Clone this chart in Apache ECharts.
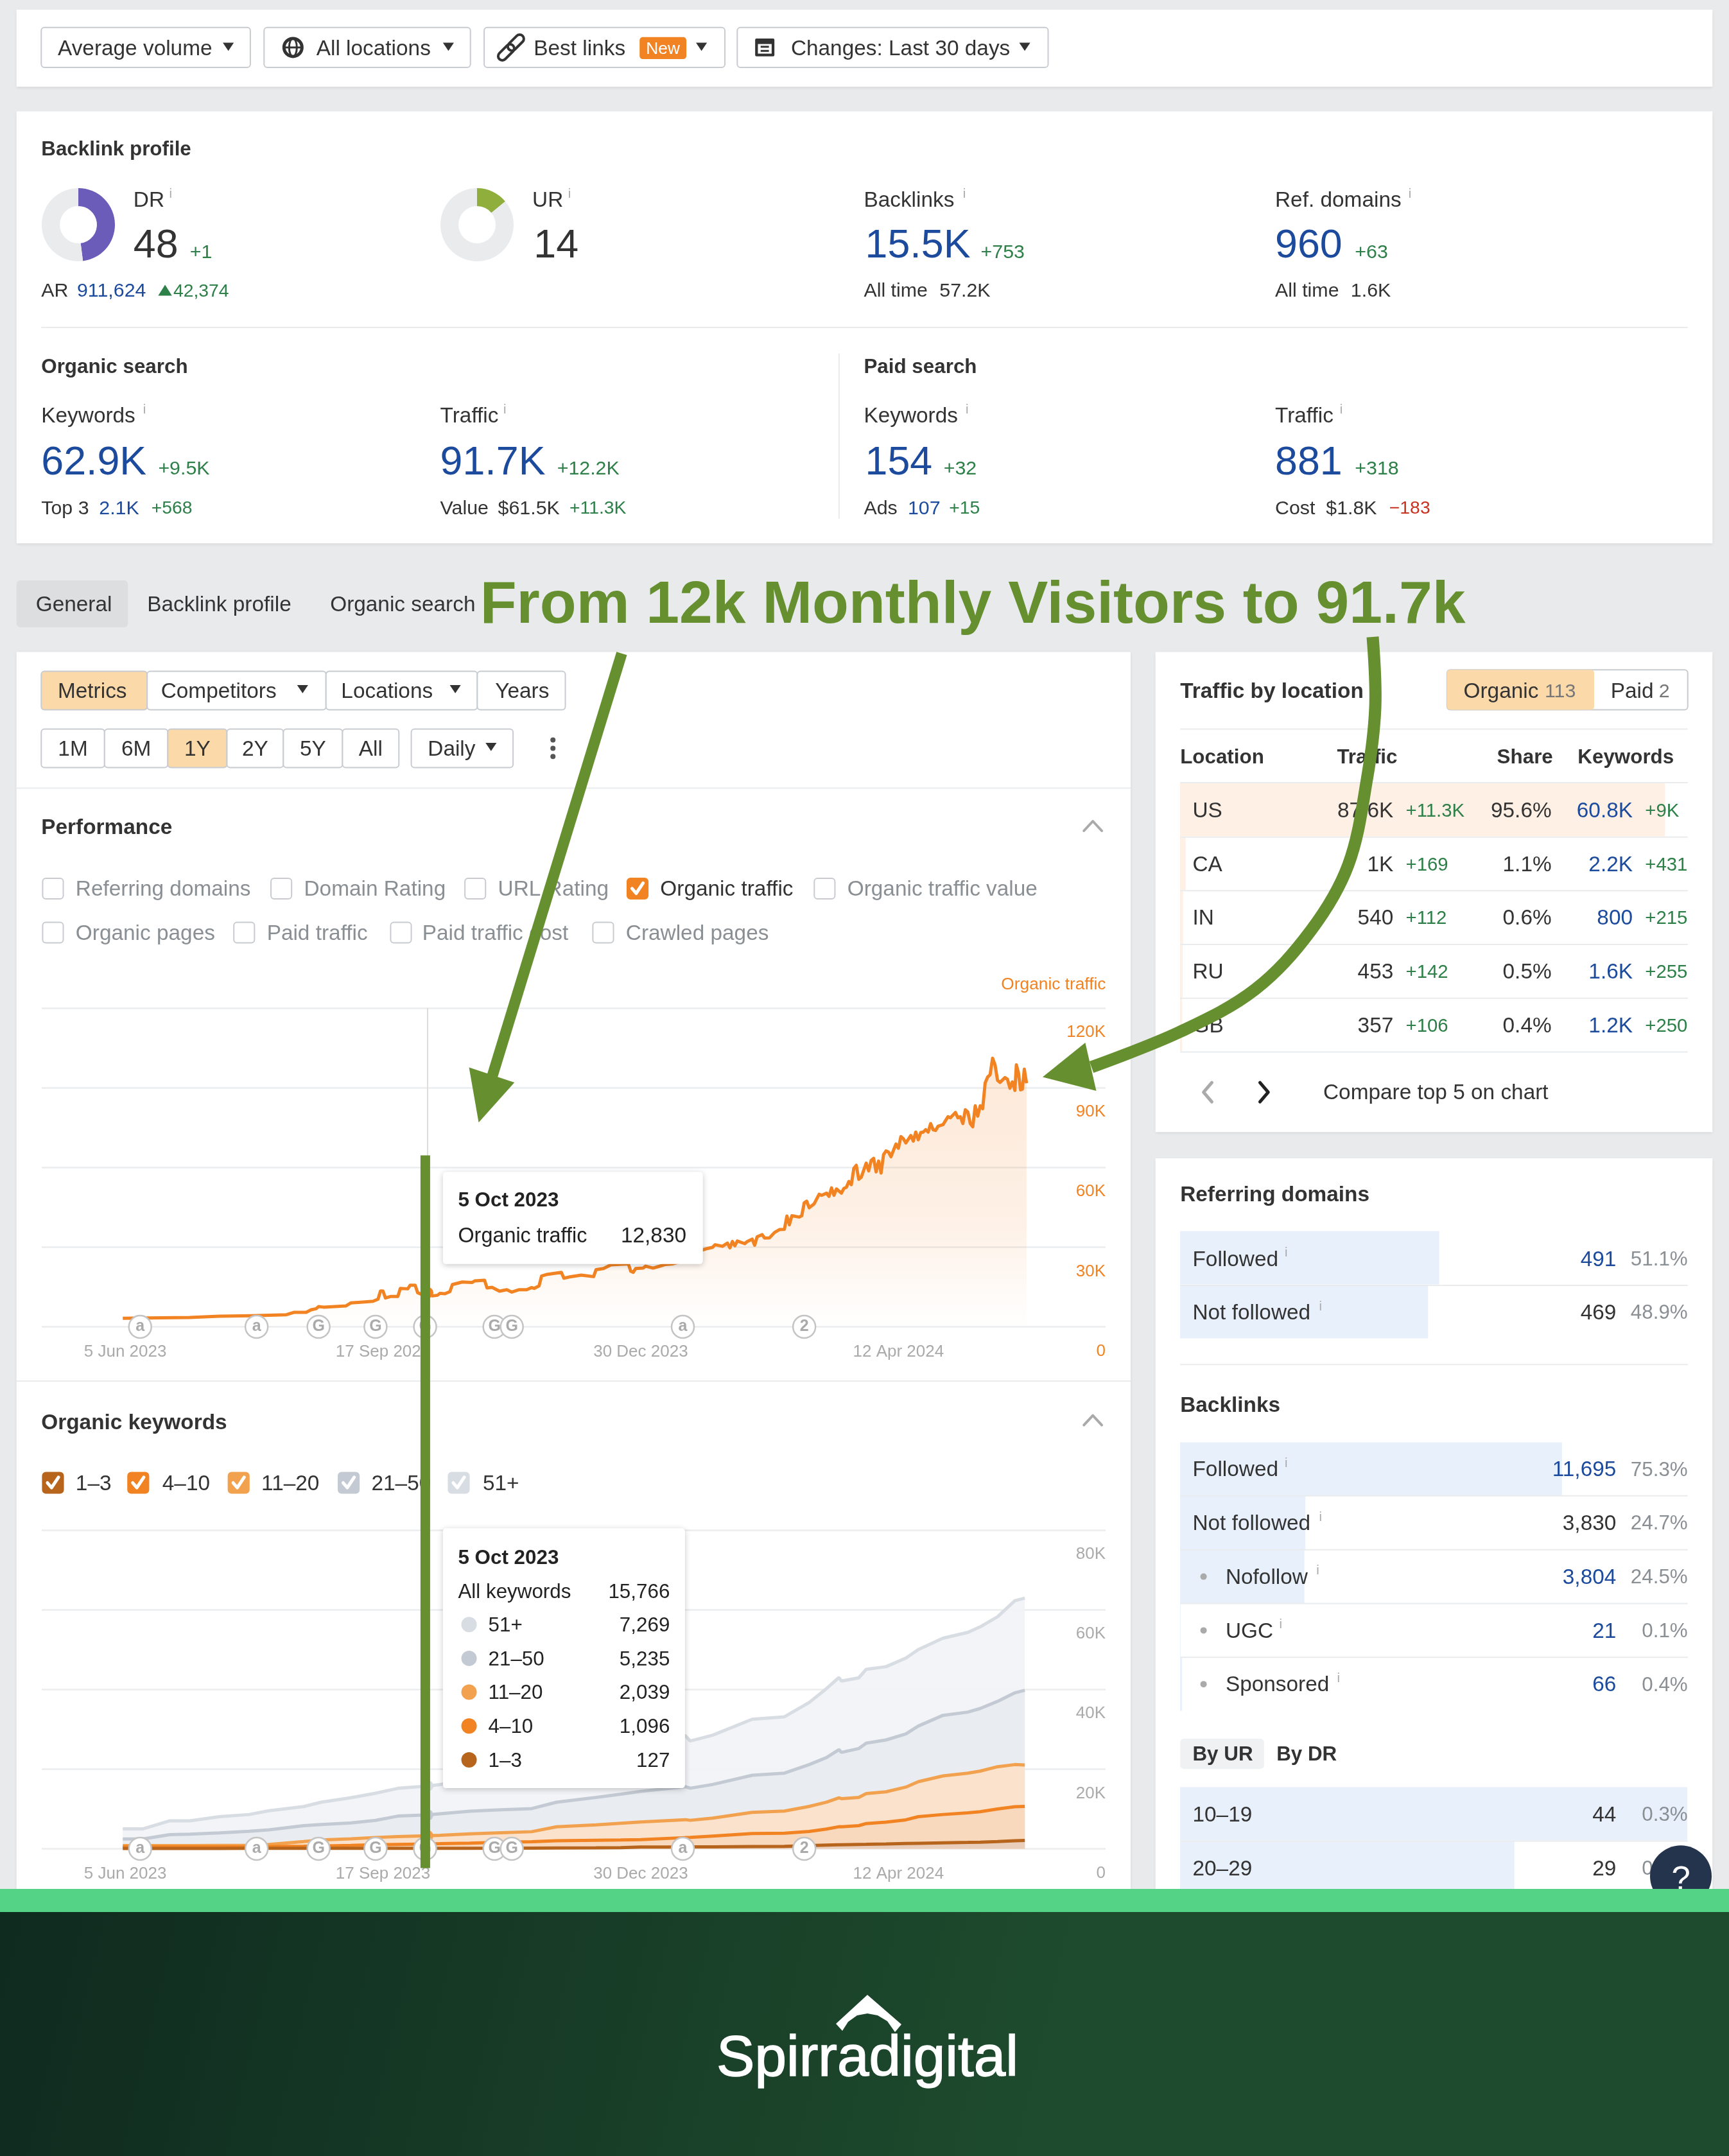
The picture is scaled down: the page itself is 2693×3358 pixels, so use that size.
<!DOCTYPE html>
<html>
<head>
<meta charset="utf-8">
<title>Backlink profile</title>
<style>
  html, body { margin: 0; padding: 0; background: #e8eaec; }
  #main { width: 2693px; height: 3358px; }
</style>
<script src="https://cdn.jsdelivr.net/npm/echarts@6/dist/echarts.min.js"></script>
</head>
<body>
<div id="main"></div>
<script>
// organic traffic, x is days counted from 5 Jun 2023
const trafficDays = [-1,9,26,38,51,65,68,73,75,77,78,80,89,91,95,100,102,103,104,105,107,110,111,114,115,117,118,120,122,124,126,127,129,131,132,136,140,141,145,146,148,151,154,156,159,162,164,165,167,168,170,176,177,179,184,189,190,193,196,203,204,205,206,209,210,213,216,218,221,224,227,230,233,235,237,238,241,243,244,245,246,247,250,251,253,254,255,257,258,260,262,264,266,267,268,269,272,273,274,275,276,278,280,281,283,284,285,286,287,289,290,291,292,293,294,295,296,297,299,300,301,302,303,304,305,306,307,308,309,311,312,313,314,315,317,318,319,320,321,322,323,324,325,326,327,328,330,332,333,335,336,337,338,339,340,341,342,343,344,345,346,347,348,349,350,351,352,353,355,356,357,358,359,359.6,360.4,361.3,362,362.8,363.7];
const trafficValues = [3200,3340,3500,4000,4150,4550,5430,5430,6400,6800,7600,7400,7850,8980,9220,9620,10400,13480,13480,10830,11390,11390,14450,14290,15660,15660,12840,12035,12830,11630,11875,12600,12440,13240,15900,16865,16700,17265,17500,14610,14850,13400,13970,13080,13970,13970,14770,14450,15415,19120,19680,20490,18300,18715,19440,18880,21530,21940,23300,23700,20890,20490,21940,22100,22820,22100,22900,23465,23700,24500,26000,27500,28940,29500,29900,30900,30300,31500,29700,32100,30500,32300,31300,32100,33000,30700,33900,34700,33400,33500,35500,36600,36700,41700,38400,41800,41300,41800,46700,47300,44800,46300,49900,49500,50300,49100,52300,49500,51900,50300,52100,52500,54700,53500,59600,60800,55500,56300,61600,58700,62600,63400,58300,62400,57900,64800,66200,65800,64000,68800,67200,71600,70800,69200,72000,69900,73300,70400,73100,73300,74200,73300,76500,74200,73900,75500,76100,79100,78700,80700,78700,79100,76500,81700,80900,76500,75300,83200,79300,83200,82100,91800,94000,94900,101100,98600,92800,92000,93800,93200,89800,92200,89000,98600,95800,89200,89400,97000,91700];

// organic keywords by position
const keywordDays = [-1,7,18,26,38,50,58,72,79,91,101,110,122,127,139,150,164,174,190,200,208,226,228,237,253,266,276,283,288,289,296,299,307,315,320,330,340,345,352,359,363];
const keywords1to3 = [100,100,100,100,100,105,105,110,110,115,120,125,127,130,140,150,170,190,230,280,430,460,470,490,560,590,800,920,1000,1010,1100,1130,1220,1320,1380,1500,1610,1670,1800,2000,2100];
const keywords4to10 = [400,400,400,400,400,395,455,540,590,745,880,975,1096,1140,1260,1450,1600,1810,1920,1950,1880,2340,2380,2710,3260,3335,3550,4030,4540,4490,4700,5210,5480,5940,6680,7100,7420,7630,8200,8540,8540];
const keywords11to20 = [300,300,300,320,340,360,540,1150,1500,1640,1840,1950,2039,2130,2350,2400,2520,3520,3850,4170,4410,4510,4300,4490,5320,5535,6290,6750,7260,7080,7100,7530,7600,8220,8770,9680,9950,10200,10600,10590,10380];
const keywords21to50 = [1665,1665,2740,2830,3160,3540,3660,3990,3900,4000,4290,5150,5235,5390,5680,5750,5790,6160,6900,7300,7680,8280,8060,8440,9300,9520,10490,11200,12090,11610,12260,12630,13010,13335,13970,15210,15320,15710,16390,18010,18760];
const keywords51plus = [2520,2520,3480,3370,4040,4200,4780,4810,5580,6300,6810,6970,7269,7310,7870,8550,9420,9120,9900,10800,11600,12800,11830,12370,14060,14140,15590,17310,18120,17910,17740,18550,18390,19035,19200,19360,20000,20490,21230,23110,23120];

const eventDays = [6,53,78,101,121,149,156,225,274];
const eventLabels = ['a','a','G','G','G','G','G','a','2'];
const hoverDay = 122;

const dateTickDays = [0,104,208,312];
const dateTickLabels = ['5 Jun 2023','17 Sep 2023','30 Dec 2023','12 Apr 2024'];

const locationNames = ['US','CA','IN','RU','GB'];
const locationTraffic = ['87.6K','1K','540','453','357'];
const locationTrafficDelta = ['+11.3K','+169','+112','+142','+106'];
const locationShare = [95.6,1.1,0.6,0.5,0.4];
const locationKeywords = ['60.8K','2.2K','800','1.6K','1.2K'];
const locationKeywordsDelta = ['+9K','+431','+215','+255','+250'];

const refDomainNames = ['Followed','Not followed'];
const refDomainValues = ['491','469'];
const refDomainShare = [51.1,48.9];

const backlinkNames = ['Followed','Not followed','Nofollow','UGC','Sponsored'];
const backlinkValues = ['11,695','3,830','3,804','21','66'];
const backlinkShare = [75.3,24.7,24.5,0.1,0.4];

const urNames = ['10–19','20–29'];
const urCounts = [44,29];
const urShare = ['0.3%','0.2%'];

const drValue = 48;
const urValue = 14;

const FONT = '"Liberation Sans", Arial, sans-serif';
const S = 2.1424; // layout was measured on the 1257 wide view
const BLUE = '#1c4a9c', GREEN = '#2e8049', RED = '#c8321e', DARK = '#333', GREY = '#8a8f94', ORANGE = '#f28322', ARROW = '#66902f', LINE = '#e9ebed';

const g = [];
function T(x, y, text, size, fill, o) {
  o = o || {};
  g.push({ type: 'text', x: x * S, y: y * S + 2, z: o.z || 100, silent: true, style: {
    text: text, fontSize: size * 1.012, fontFamily: FONT, fontWeight: o.bold ? 'bold' : 'normal', fill: fill || DARK,
    align: o.align || 'left', verticalAlign: 'middle', textAlign: o.align || 'left', textVerticalAlign: 'middle' } });
}
function R(x1, y1, x2, y2, fill, o) {
  o = o || {};
  g.push({ type: 'rect', z: o.z === undefined ? 90 : o.z, silent: true,
    shape: { x: x1 * S, y: y1 * S, width: (x2 - x1) * S, height: (y2 - y1) * S, r: o.r || 0 },
    style: { fill: fill, stroke: o.stroke, lineWidth: o.lw || 0, shadowBlur: o.blur || 0, shadowColor: o.shadow, shadowOffsetY: o.blur ? 2 : 0 } });
}
function L(x1, y1, x2, y2, stroke, w, z) {
  g.push({ type: 'line', z: z || 90, silent: true, shape: { x1: x1 * S, y1: y1 * S, x2: x2 * S, y2: y2 * S }, style: { stroke: stroke || LINE, lineWidth: w || 2 } });
}
function Poly(points, fill, z) {
  g.push({ type: 'polygon', z: z || 100, silent: true, shape: { points: points.map(p => [p[0] * S, p[1] * S]) }, style: { fill: fill } });
}
function Stroke(points, stroke, w, z) {
  g.push({ type: 'polyline', z: z || 100, silent: true, shape: { points: points.map(p => [p[0] * S, p[1] * S]) }, style: { stroke: stroke, lineWidth: w, fill: 'none', lineCap: 'round', lineJoin: 'round' } });
}
function Dot(x, y, r, fill, stroke, lw, z) {
  g.push({ type: 'circle', z: z || 100, silent: true, shape: { cx: x * S, cy: y * S, r: r }, style: { fill: fill, stroke: stroke, lineWidth: lw || 0 } });
}
function linkPart(x, y) {
  g.push({ type: 'rect', z: 100, silent: true, x: x * S, y: y * S, rotation: Math.PI / 4,
    shape: { x: -15, y: -6.5, width: 30, height: 13, r: 6.5 }, style: { fill: 'none', stroke: '#333', lineWidth: 4 } });
}
function caret(x, y) { Poly([[x - 4, y - 3], [x + 4, y - 3], [x, y + 3]], '#333'); }
function card(x1, y1, x2, y2) { R(x1, y1, x2, y2, '#fff', { z: -10, blur: 5, shadow: 'rgba(0,0,0,0.10)' }); }
function button(x1, x2, y1, y2, fill) { R(x1, y1, x2, y2, fill || '#fff', { stroke: '#c8ccd0', lw: 2, r: 5 }); }
function checkbox(x, y, fill) {
  R(x, y - 7.5, x + 15, y + 7.5, fill || '#fff', { stroke: fill || '#c8ccd0', lw: 2, r: 5 });
  if (fill) Stroke([[x + 3.5, y], [x + 6.5, y + 3.5], [x + 11.5, y - 4]], '#fff', 5);
}

// page cards
card(12, 7, 1245, 63);
card(12, 81, 1245, 395);
card(12, 474, 822, 1374);
card(840, 474, 1245, 823);
card(840, 842, 1245, 1374);

// filter row
button(30, 182, 20, 49); T(42, 35, 'Average volume', 33); caret(166, 34);
button(192, 342, 20, 49);
Dot(213, 34.5, 14, 'none', '#333', 5); L(206, 34.5, 220, 34.5, '#333', 3, 100);
g.push({ type: 'ellipse', z: 100, silent: true, shape: { cx: 213 * S, cy: 34.5 * S, rx: 6, ry: 14 }, style: { fill: 'none', stroke: '#333', lineWidth: 3 } });
T(230, 35, 'All locations', 33); caret(326, 34);
button(352, 527, 20, 49);
linkPart(368, 38); linkPart(375, 31);
T(388, 35, 'Best links', 33);
R(465, 27, 499, 43, ORANGE, { r: 5 }); T(482, 35, 'New', 26, '#fff', { align: 'center' }); caret(510, 34);
button(536, 762, 20, 49);
R(549, 28, 563, 41, '#333', { r: 2, z: 95 }); R(551, 32, 561, 39, '#fff', { z: 96 }); L(553, 34, 559, 34, '#333', 3, 100); L(553, 37, 559, 37, '#333', 3, 100);
T(575, 35, 'Changes: Last 30 days', 33); caret(745, 34);

// backlink profile stats
T(30, 108, 'Backlink profile', 31, DARK, { bold: true });
T(97, 145, 'DR', 33); T(123, 140, 'i', 20, '#aaa');
T(97, 178, '48', 62); T(138, 183, '+1', 30, GREEN);
T(30, 211, 'AR', 30); T(56, 211, '911,624', 30, BLUE);
Poly([[115, 215], [125, 215], [120, 207]], GREEN); T(126, 211, '42,374', 28, GREEN);
T(387, 145, 'UR', 33); T(413, 140, 'i', 20, '#aaa');
T(388, 178, '14', 62);
T(628, 145, 'Backlinks', 33); T(700, 140, 'i', 20, '#aaa');
T(629, 178, '15.5K', 62, BLUE); T(713, 183, '+753', 30, GREEN);
T(628, 211, 'All time', 30); T(683, 211, '57.2K', 30);
T(927, 145, 'Ref. domains', 33); T(1024, 140, 'i', 20, '#aaa');
T(927, 178, '960', 62, BLUE); T(985, 183, '+63', 30, GREEN);
T(927, 211, 'All time', 30); T(982, 211, '1.6K', 30);
L(30, 238, 1227, 238);
T(30, 266, 'Organic search', 31, DARK, { bold: true });
T(628, 266, 'Paid search', 31, DARK, { bold: true });
L(610, 257, 610, 377);
T(30, 302, 'Keywords', 33); T(104, 297, 'i', 20, '#aaa');
T(30, 336, '62.9K', 62, BLUE); T(115, 340, '+9.5K', 30, GREEN);
T(30, 369, 'Top 3', 30); T(72, 369, '2.1K', 30, BLUE); T(110, 369, '+568', 28, GREEN);
T(320, 302, 'Traffic', 33); T(366, 297, 'i', 20, '#aaa');
T(320, 336, '91.7K', 62, BLUE); T(405, 340, '+12.2K', 30, GREEN);
T(320, 369, 'Value', 30); T(362, 369, '$61.5K', 30); T(414, 369, '+11.3K', 28, GREEN);
T(628, 302, 'Keywords', 33); T(702, 297, 'i', 20, '#aaa');
T(629, 336, '154', 62, BLUE); T(686, 340, '+32', 30, GREEN);
T(628, 369, 'Ads', 30); T(660, 369, '107', 30, BLUE); T(690, 369, '+15', 28, GREEN);
T(927, 302, 'Traffic', 33); T(974, 297, 'i', 20, '#aaa');
T(927, 336, '881', 62, BLUE); T(985, 340, '+318', 30, GREEN);
T(927, 369, 'Cost', 30); T(964, 369, '$1.8K', 30); T(1010, 369, '−183', 28, RED);

// tabs
R(12, 422, 93, 456, '#dcdee0', { r: 6 });
T(26, 439, 'General', 33); T(107, 439, 'Backlink profile', 33); T(240, 439, 'Organic search', 33);

// left panel controls
button(30, 107, 488, 516, '#fbd9a9'); T(42, 502, 'Metrics', 33);
button(107, 237, 488, 516); T(117, 502, 'Competitors', 33); caret(220, 501);
button(237, 347, 488, 516); T(248, 502, 'Locations', 33); caret(331, 501);
button(347, 411, 488, 516); T(360, 502, 'Years', 33);
const periods = [['1M', 30, 76], ['6M', 76, 122], ['1Y', 122, 165], ['2Y', 165, 206], ['5Y', 206, 249], ['All', 249, 290]];
periods.forEach(p => {
  button(p[1], p[2], 530, 558, p[0] === '1Y' ? '#fbd9a9' : '#fff');
  T((p[1] + p[2]) / 2, 544, p[0], 33, DARK, { align: 'center' });
});
button(299, 373, 530, 558); T(311, 544, 'Daily', 33); caret(357, 543);
[538, 544, 550].forEach(y => Dot(402, y, 4, '#555'));
L(12, 573, 822, 573);
T(30, 601, 'Performance', 33, DARK, { bold: true });
Stroke([[788, 604], [794.5, 597], [801, 604]], '#aaa', 4);

const row1 = [[31, 'Referring domains', 55], [197, 'Domain Rating', 221], [338, 'URL Rating', 362], [456, 'Organic traffic', 480], [592, 'Organic traffic value', 616]];
row1.forEach(r => {
  const on = r[1] === 'Organic traffic';
  checkbox(r[0], 646, on ? ORANGE : null);
  T(r[2], 646, r[1], 33, on ? DARK : GREY);
});
[[31, 'Organic pages', 55], [170, 'Paid traffic', 194], [284, 'Paid traffic cost', 307], [431, 'Crawled pages', 455]].forEach(r => {
  checkbox(r[0], 678);
  T(r[2], 678, r[1], 33, GREY);
});
T(804, 715, 'Organic traffic', 26, ORANGE, { align: 'right' });
L(12, 1004, 822, 1004);
T(30, 1034, 'Organic keywords', 33, DARK, { bold: true });
Stroke([[788, 1036], [794.5, 1029], [801, 1036]], '#aaa', 4);

const KW_COLORS = ['#b7651c', '#f28322', '#f2a24e', '#c4cad3', '#d8dde3'];
const KW_FILLS = ['#e6cdbb', '#f9d8bc', '#fbe1c9', '#e8ecf0', '#f1f3f6'];
const KW_NAMES = ['1–3', '4–10', '11–20', '21–50', '51+'];
[[31, 55], [93, 118], [166, 190], [246, 270], [326, 351]].forEach((r, i) => {
  checkbox(r[0], 1078, KW_COLORS[i]);
  T(r[1], 1078, KW_NAMES[i], 33);
});

// tooltips, both are the 5 Oct 2023 hover
function tooltipBox(x1, y1, x2, y2) { R(x1, y1, x2, y2, '#fff', { z: 110, r: 5, blur: 10, shadow: 'rgba(0,0,0,0.22)' }); }
tooltipBox(322, 852, 511, 919);
T(333, 872, '5 Oct 2023', 31, '#222', { bold: true, z: 111 });
T(333, 898, 'Organic traffic', 32, '#222', { z: 111 });
T(499, 898, '12,830', 33, '#222', { align: 'right', z: 111 });
tooltipBox(322, 1111, 498, 1300);
T(333, 1132, '5 Oct 2023', 31, '#222', { bold: true, z: 111 });
T(333, 1157, 'All keywords', 31, '#222', { z: 111 });
T(487, 1157, '15,766', 31, '#222', { align: 'right', z: 111 });
const tipRows = [[4, '7,269'], [3, '5,235'], [2, '2,039'], [1, '1,096'], [0, '127']];
tipRows.forEach((r, i) => {
  const y = 1181 + i * 24.6;
  Dot(341, y, 12, KW_COLORS[r[0]], null, 0, 111);
  T(355, y, KW_NAMES[r[0]], 31, '#222', { z: 111 });
  T(487, y, r[1], 31, '#222', { align: 'right', z: 111 });
});

// right panel, traffic by location
T(858, 502, 'Traffic by location', 33, DARK, { bold: true });
R(1052, 487, 1227, 516, '#fff', { stroke: '#c8ccd0', lw: 2, r: 5 });
R(1052, 487, 1159, 516, '#fbd9a9', { r: 5, z: 95 });
T(1064, 502, 'Organic', 33); T(1123, 502, '113', 30, '#777');
T(1171, 502, 'Paid', 33); T(1206, 502, '2', 30, '#777');
L(858, 530, 1227, 530);
T(858, 550, 'Location', 31, DARK, { bold: true });
T(972, 550, 'Traffic', 31, DARK, { bold: true });
T(1129, 550, 'Share', 31, DARK, { bold: true, align: 'right' });
T(1147, 550, 'Keywords', 31, DARK, { bold: true });
L(858, 569, 1227, 569);
locationNames.forEach((name, i) => {
  const y = 589 + i * 39.07;
  T(867, y, name, 33);
  T(1013, y, locationTraffic[i], 33, DARK, { align: 'right' });
  T(1022, y, locationTrafficDelta[i], 29, GREEN);
  T(1128, y, locationShare[i].toFixed(1) + '%', 33, DARK, { align: 'right' });
  T(1187, y, locationKeywords[i], 33, BLUE, { align: 'right' });
  T(1196, y, locationKeywordsDelta[i], 29, GREEN);
  L(858, y + 19.5, 1227, y + 19.5);
});
Stroke([[881, 787], [875, 794], [881, 801]], '#aaa', 5);
Stroke([[916, 787], [922, 794], [916, 801]], '#222', 5);
T(962, 794, 'Compare top 5 on chart', 33);

// right panel, link tables
function superI(x, y) { T(x, y - 5, 'i', 20, '#aaa'); }
T(858, 868, 'Referring domains', 33, DARK, { bold: true });
refDomainNames.forEach((name, i) => {
  const y = 915 + i * 39;
  T(867, y, name, 33); superI(name === 'Followed' ? 934 : 959, y);
  T(1175, y, refDomainValues[i], 33, i === 0 ? BLUE : DARK, { align: 'right' });
  T(1227, y, refDomainShare[i].toFixed(1) + '%', 31, GREY, { align: 'right' });
});
L(858, 934.5, 1227, 934.5);
L(858, 992, 1227, 992);
T(858, 1021, 'Backlinks', 33, DARK, { bold: true });
const superIx = { Followed: 934, 'Not followed': 959, Nofollow: 957, UGC: 930, Sponsored: 972 };
backlinkNames.forEach((name, i) => {
  const y = 1068 + i * 39.1, sub = i > 1;
  if (sub) Dot(875, y, 5, '#aaa');
  T(sub ? 891 : 867, y, name, 33);
  superI(superIx[name], y);
  T(1175, y, backlinkValues[i], 33, i === 1 ? DARK : BLUE, { align: 'right' });
  T(1227, y, backlinkShare[i].toFixed(1) + '%', 31, GREY, { align: 'right' });
  if (i < 4) L(858, y + 19.5, 1227, y + 19.5);
});
R(858, 1264, 919, 1286, '#f0f1f2', { r: 6 });
T(867, 1275, 'By UR', 31, DARK, { bold: true });
T(928, 1275, 'By DR', 31, DARK, { bold: true });
urNames.forEach((name, i) => {
  const y = 1319 + i * 39;
  T(867, y, name, 33);
  T(1175, y, String(urCounts[i]), 33, DARK, { align: 'right' });
  T(1227, y, urShare[i], 31, GREY, { align: 'right' });
});
L(858, 1338.5, 1227, 1338.5);
Dot(1222, 1364, 48, '#24344d', null, 0, 120);
T(1222, 1366, '?', 52, '#fff', { align: 'center', z: 121 });

// annotation overlay
T(349, 440, 'From 12k Monthly Visitors to 91.7k', 92, ARROW, { bold: true, z: 150 });
L(452, 475, 358, 782, ARROW, 17, 150);
Poly([[341, 776], [374, 787], [348, 816]], ARROW, 150);
g.push({ type: 'polyline', z: 150, silent: true,
  shape: { points: [[2138, 992], [2142, 1102], [2129, 1214], [2100, 1347], [2042, 1449], [1955, 1541], [1838, 1607], [1700, 1662]], smooth: 0.35 },
  style: { stroke: ARROW, lineWidth: 19, fill: 'none' } });
Poly([[789, 758], [758, 783], [797, 793]], ARROW, 150);
R(305.7, 840, 312.7, 1358, ARROW, { z: 150 });

// footer
g.push({ type: 'rect', z: 200, silent: true, shape: { x: 0, y: 2978, width: 2693, height: 380 },
  style: { fill: new echarts.graphic.LinearGradient(0, 0, 0.6, 1, [{ offset: 0, color: '#0f2a1f' }, { offset: 1, color: '#1e4b2d' }]) } });
g.push({ type: 'rect', z: 200, silent: true, shape: { x: 0, y: 2942, width: 2693, height: 36 }, style: { fill: '#54d386' } });
g.push({ type: 'polygon', z: 201, silent: true,
  shape: { points: [[1351, 3107], [1404, 3153], [1394, 3165], [1382, 3148], [1367, 3139], [1351, 3136], [1335, 3139], [1321, 3149], [1312, 3163], [1302, 3152]] },
  style: { fill: '#fff' } });
g.push({ type: 'text', x: 1351, y: 3208, z: 201, silent: true, style: { text: 'Spirradigital', fontSize: 89, fontFamily: FONT, fill: '#fff', stroke: '#fff', lineWidth: 1.5, align: 'center', verticalAlign: 'middle', textAlign: 'center', textVerticalAlign: 'middle' } });

// charts
function dayAxis(gridIndex) {
  return { type: 'value', gridIndex: gridIndex, min: -33.7, max: 395.6,
    axisLine: { show: false }, axisTick: { show: false }, splitLine: { show: false },
    axisLabel: { customValues: dateTickDays, margin: 26, fontSize: 26, color: '#aaa', fontFamily: FONT,
      formatter: v => dateTickLabels[dateTickDays.indexOf(v)] } };
}
function valueAxis(gridIndex, max, interval, color) {
  return { type: 'value', gridIndex: gridIndex, position: 'right', min: 0, max: max, interval: interval,
    axisLine: { show: false }, axisTick: { show: false },
    splitLine: { lineStyle: { color: '#eaecee', width: 2.5 } },
    axisLabel: { inside: true, margin: 0, fontSize: 26, color: color, fontFamily: FONT, verticalAlign: 'top', padding: [25, 0, 0, 0],
      formatter: v => v ? v / 1000 + 'K' : '0' } };
}
function hiddenX(gridIndex, max) {
  return { type: 'value', gridIndex: gridIndex, min: 0, max: max, show: false };
}
function hiddenY(gridIndex, names) {
  return { type: 'category', gridIndex: gridIndex, data: names, inverse: true, show: false };
}
function shareBars(i, values, color) {
  return { type: 'bar', xAxisIndex: i, yAxisIndex: i, data: values, barCategoryGap: '1%', silent: true, itemStyle: { color: color }, z: 1 };
}
function eventSeries(i) {
  return { type: 'scatter', xAxisIndex: i, yAxisIndex: i, z: 6, silent: true, clip: false, symbol: 'circle', symbolSize: 35,
    data: eventDays.map((d, k) => ({ value: [d, 0], name: eventLabels[k] })),
    itemStyle: { color: '#fff', borderColor: '#c4c4c4', borderWidth: 2.5, opacity: 1 },
    label: { show: true, position: 'inside', formatter: p => p.name, fontSize: 25, fontWeight: 'bold', color: '#aaa', fontFamily: FONT } };
}
function hoverItem(d, v, color) {
  return d === hoverDay ? { value: [d, v], symbol: 'circle', symbolSize: 18, itemStyle: { color: color } } : [d, v];
}
// echarts would stack along x with two value axes, so the bands are summed here and painted top one first
const keywordBands = [keywords1to3, keywords4to10, keywords11to20, keywords21to50, keywords51plus];
function keywordTop(band, i) {
  let sum = 0;
  for (let k = 0; k <= band; k++) sum += keywordBands[k][i];
  return sum;
}
function keywordSeries(band) {
  return { type: 'line', name: KW_NAMES[band], xAxisIndex: 1, yAxisIndex: 1, silent: true, symbol: 'none', showSymbol: true,
    data: keywordDays.map((d, i) => hoverItem(d, keywordTop(band, i), KW_COLORS[band])),
    lineStyle: { color: KW_COLORS[band], width: 5 }, itemStyle: { color: KW_COLORS[band] },
    areaStyle: { color: KW_FILLS[band], opacity: 0.92 } };
}
function donut(center, value, color) {
  return { type: 'pie', center: center, radius: [29, 57], startAngle: 90, silent: true, animation: false,
    label: { show: false }, labelLine: { show: false },
    data: [{ value: value, itemStyle: { color: color } }, { value: 100 - value, itemStyle: { color: '#e9ebed' } }] };
}

const chart = echarts.init(document.getElementById('main'), null, { renderer: 'canvas' });
chart.setOption({
  animation: false,
  backgroundColor: '#e8eaec',
  textStyle: { fontFamily: FONT },
  grid: [
    { left: 65, top: 1570, width: 1657, height: 496.5 },
    { left: 65, top: 2383, width: 1657, height: 496.5 },
    { left: 1838, top: 1219.5, width: 790, height: 418.5 },
    { left: 1838, top: 1917, width: 790, height: 168 },
    { left: 1838, top: 2246, width: 790, height: 419 },
    { left: 1838, top: 2783, width: 790, height: 168 }
  ],
  xAxis: [dayAxis(0), dayAxis(1), hiddenX(2, 100), hiddenX(3, 100), hiddenX(4, 100), hiddenX(5, 44)],
  yAxis: [valueAxis(0, 120000, 30000, ORANGE), valueAxis(1, 80000, 20000, '#aaa'),
    hiddenY(2, locationNames), hiddenY(3, refDomainNames), hiddenY(4, backlinkNames), hiddenY(5, urNames)],
  series: [
    { type: 'line', name: 'Organic traffic', xAxisIndex: 0, yAxisIndex: 0, silent: true, symbol: 'none', showSymbol: true,
      data: trafficDays.map((d, i) => hoverItem(d, trafficValues[i], ORANGE)),
      lineStyle: { color: ORANGE, width: 5, join: 'round' }, itemStyle: { color: ORANGE },
      areaStyle: { color: new echarts.graphic.LinearGradient(0, 0, 0, 1, [
        { offset: 0, color: 'rgba(244,150,72,0.30)' }, { offset: 0.6, color: 'rgba(244,150,72,0.20)' }, { offset: 1, color: 'rgba(244,150,72,0)' }]) },
      markLine: { silent: true, symbol: 'none', animation: false, label: { show: false }, lineStyle: { color: '#dddddd', width: 2, type: 'solid' }, data: [{ xAxis: hoverDay }] } },
    keywordSeries(4),
    keywordSeries(3),
    keywordSeries(2),
    keywordSeries(1),
    keywordSeries(0),
    eventSeries(0),
    eventSeries(1),
    shareBars(2, locationShare, '#fff0e6'),
    shareBars(3, refDomainShare, '#e8f0fc'),
    shareBars(4, backlinkShare, '#e8f0fc'),
    shareBars(5, urCounts, '#e8f0fc'),
    donut([122, 350], drValue, '#6a5cb8'),
    donut([743, 350], urValue, '#8fae3c')
  ],
  graphic: { elements: g }
});
</script>
</body>
</html>
